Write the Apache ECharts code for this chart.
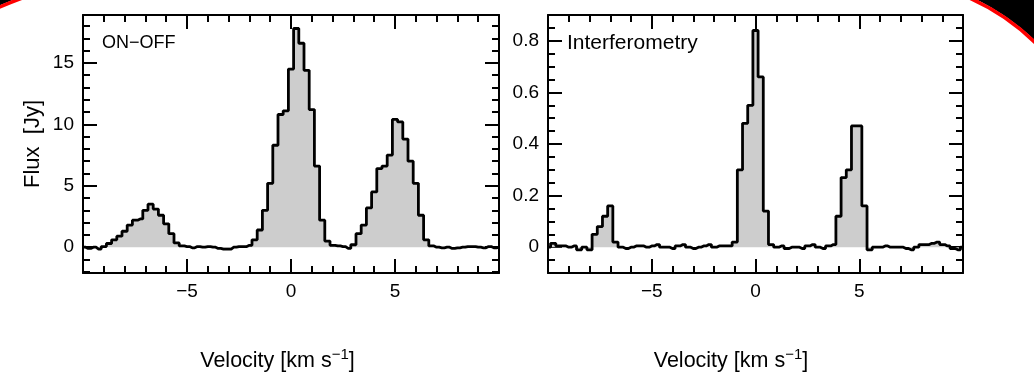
<!DOCTYPE html>
<html>
<head>
<meta charset="utf-8">
<script src="https://cdn.jsdelivr.net/npm/echarts@6/dist/echarts.min.js"></script>
<style>
  html, body { margin: 0; padding: 0; background: #fff; }
  #chart-container { width: 1034px; height: 374px; }
</style>
</head>
<body>
<div id="chart-container"></div>
<script>
// channel velocities (km/s), shared by both spectra
const velocity = [
  -10, -9.75, -9.5, -9.25, -9, -8.75, -8.5, -8.25, -8, -7.75, -7.5, -7.25, -7, -6.75, -6.5, -6.25,
  -6, -5.75, -5.5, -5.25, -5, -4.75, -4.5, -4.25, -4, -3.75, -3.5, -3.25, -3, -2.75, -2.5, -2.25,
  -2, -1.75, -1.5, -1.25, -1, -0.75, -0.5, -0.25, 0, 0.25, 0.5, 0.75, 1, 1.25, 1.5, 1.75,
  2, 2.25, 2.5, 2.75, 3, 3.25, 3.5, 3.75, 4, 4.25, 4.5, 4.75, 5, 5.25, 5.5, 5.75,
  6, 6.25, 6.5, 6.75, 7, 7.25, 7.5, 7.75, 8, 8.25, 8.5, 8.75, 9, 9.25, 9.5, 9.75, 10
];

// ON-OFF single dish flux (Jy)
const onOffFlux = [
  0.0, -0.1, 0.0, -0.15, 0.05, 0.3, 0.6, 0.9, 1.3, 1.8, 2.2, 2.3, 3.0, 3.5, 3.1, 2.6,
  1.9, 1.1, 0.35, 0.1, 0.05, -0.05, 0.05, 0.0, 0.05, 0.0, -0.1, -0.15, -0.15, 0.0, 0.05, 0.05,
  0.15, 0.6, 1.4, 3.0, 5.2, 8.3, 10.8, 11.1, 14.5, 17.8, 16.6, 14.4, 11.2, 6.6, 2.2, 0.5,
  0.15, 0.1, 0.05, -0.1, 0.2, 1.1, 1.8, 3.2, 4.5, 6.4, 6.6, 7.5, 10.4, 10.2, 8.8, 7.0,
  5.2, 2.6, 0.6, 0.1, 0.0, -0.05, 0.0, -0.1, -0.05, 0.0, 0.05, 0.05, 0.0, -0.05, 0.05, -0.05, 0.0
];

// interferometric flux (Jy)
const interFlux = [
  0.0, 0.015, 0.005, 0.005, 0.0, 0.005, -0.01, 0.0, -0.01, 0.05, 0.08, 0.12, 0.16, 0.02, 0.0, -0.005,
  0.0, 0.005, 0.005, 0.0, 0.005, 0.01, 0.0, 0.0, -0.005, 0.005, 0.01, 0.0, -0.005, 0.0, 0.005, 0.01,
  0.0, 0.005, 0.005, 0.005, 0.02, 0.3, 0.48, 0.55, 0.84, 0.66, 0.14, 0.01, 0.0, 0.005, -0.005, 0.0,
  0.0, -0.005, 0.005, 0.01, 0.0, -0.005, 0.005, 0.01, 0.12, 0.27, 0.3, 0.47, 0.47, 0.16, -0.01, 0.0,
  0.0, 0.005, 0.0, 0.0, 0.0, -0.005, -0.01, 0.0, 0.01, 0.01, 0.015, 0.02, 0.01, 0.005, -0.005, -0.01, 0.0
];

// tick positions
const leftMajorTicks = [0, 5, 10, 15];
const leftMinorTicks = [-2, -1, 0, 1, 2, 3, 4, 5, 6, 7, 8, 9, 10, 11, 12, 13, 14, 15, 16, 17, 18];
const rightMajorTicks = [0, 0.2, 0.4, 0.6, 0.8];
const rightMinorTicks = [-0.1, -0.05, 0, 0.05, 0.1, 0.15, 0.2, 0.25, 0.3, 0.35, 0.4, 0.45, 0.5,
  0.55, 0.6, 0.65, 0.7, 0.75, 0.8, 0.85];

const FONT = "Liberation Sans";
const INK = "#000";

const fmtVel = (v) => {
  if (Math.abs(v) >= 10) return "";
  return v < 0 ? "\u2212" + -v : String(v);
};

const velAxis = (gridIndex, position, withLabel, shift) => ({
  type: "value",
  gridIndex,
  position,
  min: -10,
  max: 10,
  interval: 5,
  axisLine: { show: true, onZero: false, lineStyle: { color: INK, width: 2 } },
  axisTick: { show: true, inside: true, length: 14, lineStyle: { color: INK, width: 2 } },
  minorTick: { show: true, splitNumber: 5, length: 7, lineStyle: { color: INK, width: 2 } },
  splitLine: { show: false },
  minorSplitLine: { show: false },
  axisLabel: {
    show: withLabel,
    formatter: fmtVel,
    fontFamily: FONT,
    fontSize: 19,
    color: INK,
    margin: 9,
  },
  name: withLabel ? "Velocity [km s{sup|\u22121}]" : "",
  nameLocation: "middle",
  nameGap: 74,
  nameTextStyle: {
    fontFamily: FONT,
    fontSize: 21.5,
    color: INK,
    padding: [0, shift || 0, 0, 0],
    rich: {
      sup: { fontFamily: FONT, fontSize: 15, color: INK, verticalAlign: "top", padding: [0, 0, 14, 0] },
    },
  },
});

const fluxAxis = (gridIndex, position, min, max, ticks, len, major, labelFmt, name) => ({
  type: "value",
  gridIndex,
  position,
  min,
  max,
  axisLine: { show: major, onZero: false, lineStyle: { color: INK, width: 2 } },
  axisTick: { show: true, inside: true, length: len, customValues: ticks, lineStyle: { color: INK, width: 2 } },
  splitLine: { show: false },
  axisLabel: {
    show: !!labelFmt,
    customValues: ticks,
    formatter: labelFmt || undefined,
    fontFamily: FONT,
    fontSize: 19,
    color: INK,
    margin: 9,
  },
  name: name || "",
  nameLocation: "middle",
  nameGap: 39,
  nameTextStyle: { fontFamily: FONT, fontSize: 22, color: INK },
});

// decorative black/red corner swooshes of the scanned page
function cornerShape(cx, cy, r, a0, a1, extra) {
  const pts = [];
  for (let i = 0; i <= 40; i++) {
    const a = a0 + ((a1 - a0) * i) / 40;
    pts.push([cx + (r + 1.5) * Math.cos(a), cy + (r + 1.5) * Math.sin(a)]);
  }
  return pts.concat(extra);
}

const option = {
  backgroundColor: "#fff",
  animation: false,
  grid: [
    { left: 83, right: 535, top: 15, bottom: 101, containLabel: false, outerBoundsMode: "none" },
    { left: 548, right: 71, top: 15, bottom: 101, containLabel: false, outerBoundsMode: "none" },
  ],
  xAxis: [
    velAxis(0, "bottom", true, 27),
    velAxis(0, "top", false),
    velAxis(1, "bottom", true, 49),
    velAxis(1, "top", false),
  ],
  yAxis: [
    fluxAxis(0, "left", -2.1, 18.9, leftMajorTicks, 14, true, (v) => String(v), "Flux  [Jy]"),
    fluxAxis(0, "left", -2.1, 18.9, leftMinorTicks, 7, false),
    fluxAxis(0, "right", -2.1, 18.9, leftMajorTicks, 14, true),
    fluxAxis(0, "right", -2.1, 18.9, leftMinorTicks, 7, false),
    fluxAxis(1, "left", -0.1, 0.9, rightMajorTicks, 14, true, (v) => (v === 0 ? "0" : v.toFixed(1))),
    fluxAxis(1, "left", -0.1, 0.9, rightMinorTicks, 7, false),
    fluxAxis(1, "right", -0.1, 0.9, rightMajorTicks, 14, true),
    fluxAxis(1, "right", -0.1, 0.9, rightMinorTicks, 7, false),
  ],
  series: [
    {
      name: "ON-OFF",
      type: "line",
      xAxisIndex: 0,
      yAxisIndex: 0,
      step: "middle",
      symbol: "none",
      data: velocity.map((v, i) => [v, onOffFlux[i]]),
      lineStyle: { color: INK, width: 2.8 },
      areaStyle: { color: "#cdcdcd", opacity: 1 },
      z: 1,
    },
    {
      name: "Interferometry",
      type: "line",
      xAxisIndex: 2,
      yAxisIndex: 4,
      step: "middle",
      symbol: "none",
      data: velocity.map((v, i) => [v, interFlux[i]]),
      lineStyle: { color: INK, width: 2.8 },
      areaStyle: { color: "#cdcdcd", opacity: 1 },
      z: 1,
    },
  ],
  graphic: [
    {
      type: "text",
      left: 102,
      top: 34,
      style: { text: "ON\u2212OFF", fontFamily: FONT, fontSize: 18, fill: INK },
    },
    {
      type: "text",
      left: 567,
      top: 33,
      style: { text: "Interferometry", fontFamily: FONT, fontSize: 21, fill: INK },
    },
    {
      type: "polygon",
      shape: { points: cornerShape(150, 350, 374.4, -2.02, -1.88, [[-10, -10]]) },
      style: { fill: "#000" },
    },
    {
      type: "arc",
      shape: { cx: 150, cy: 350, r: 374.4, startAngle: -2.02, endAngle: -1.88 },
      style: { stroke: "#ff0000", lineWidth: 3.5, fill: null },
    },
    {
      type: "polygon",
      shape: { points: cornerShape(876, 206, 228, -1.22, -0.68, [[1060, -20]]) },
      style: { fill: "#000" },
    },
    {
      type: "arc",
      shape: { cx: 876, cy: 206, r: 228, startAngle: -1.22, endAngle: -0.68 },
      style: { stroke: "#ff0000", lineWidth: 3.5, fill: null },
    },
  ],
};

const dom = document.getElementById("chart-container");
const myChart = echarts.init(dom, null, { renderer: "canvas" });
myChart.setOption(option);
window.addEventListener("resize", () => myChart.resize());
</script>
</body>
</html>
